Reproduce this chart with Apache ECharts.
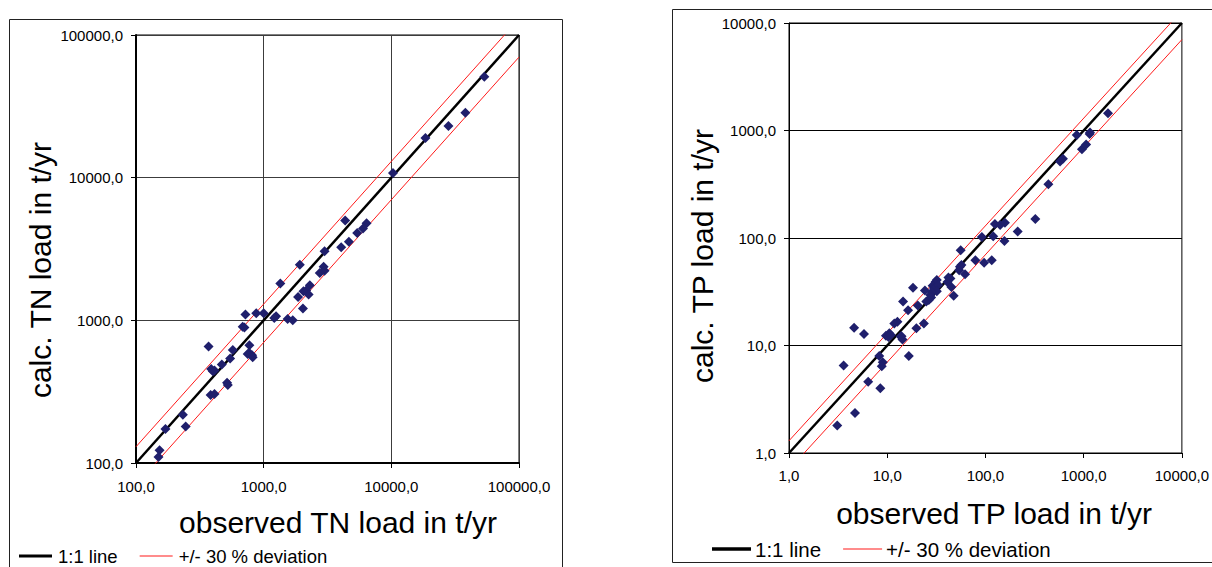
<!DOCTYPE html>
<html>
<head>
<meta charset="utf-8">
<title>Observed vs calculated TN and TP loads</title>
<script src="https://cdn.jsdelivr.net/npm/echarts@6/dist/echarts.min.js"></script>
<style>
  html, body { margin: 0; padding: 0; background: #fff; }
  #chart { width: 1212px; height: 567px; }
</style>
</head>
<body>
<div id="chart"></div>
<script>
// Total nitrogen: [observed, calculated] load in t/yr
const tnPoints = [
  [53500, 51000], [38000, 28500], [28000, 23000], [18500, 19000], [10300, 10800],
  [4350, 5000], [6400, 4800], [6000, 4400], [5400, 4100], [4650, 3550],
  [4050, 3250], [3000, 3050], [2950, 2370], [3000, 2230], [2750, 2150],
  [1920, 2450], [2300, 1760], [2150, 1620], [2050, 1600], [2250, 1520],
  [1860, 1460], [2030, 1210], [1350, 1810], [1000, 1120], [875, 1120],
  [720, 1100], [1250, 1070], [1210, 1040], [1540, 1020], [1690, 1000],
  [685, 900], [707, 890], [370, 655], [573, 620], [773, 670],
  [773, 590], [811, 570], [750, 580], [820, 550], [546, 540],
  [470, 490], [388, 455], [412, 445], [400, 440], [517, 365], [524, 352],
  [384, 300], [412, 305], [233, 218], [245, 180], [170, 173],
  [153, 123], [150, 110]
];

// Total phosphorus: [observed, calculated] load in t/yr
const tpPoints = [
  [1770, 1450], [850, 910], [1150, 930], [1160, 960], [960, 670],
  [1060, 740], [575, 515], [615, 545], [437, 317], [322, 150],
  [213, 115], [125, 135], [141, 132], [158, 139], [120, 104],
  [92, 102], [156, 94], [56, 77], [79, 62], [116, 62],
  [97, 59], [57, 56], [55, 54], [54, 50], [62, 46],
  [42, 43], [44, 42], [41, 39], [45, 35], [47.5, 29],
  [31, 39], [32, 40.7], [29, 36], [30, 34], [33, 36.5],
  [32, 32], [28.5, 31.5], [27.5, 29.5], [26.5, 26.5], [25, 25.6],
  [28, 28], [24.2, 32.4], [20.5, 23.5], [18.3, 34.5], [16.3, 21.3],
  [14.5, 25.6], [12.7, 16.6], [11.8, 16], [23.6, 16], [19.8, 14.5],
  [14, 12.2], [14.3, 11.4], [13.7, 12.1], [10.5, 13], [9.7, 12.3],
  [10.3, 12], [10.9, 12.5], [4.6, 14.6], [5.8, 12.8], [16.6, 8],
  [8.3, 8], [9, 7], [8.8, 6.4], [3.6, 6.5], [6.4, 4.6],
  [8.5, 4], [4.7, 2.35], [3.1, 1.8]
];

// Axis ranges (log scale, one decade per tick)
const tnRange = [100, 100000];
const tpRange = [1, 10000];

// Reference lines: 1:1 and +/- 30 % deviation
const tnOneToOne = [[100, 100], [100000, 100000]];
const tnUpper = [[100, 130], [100000, 130000]];
const tnLower = [[100, 70], [100000, 70000]];
const tpOneToOne = [[1, 1], [10000, 10000]];
const tpUpper = [[1, 1.3], [10000, 13000]];
const tpLower = [[1, 0.7], [10000, 7000]];

const FONT = 'Liberation Sans, Arial, sans-serif';
const MARKER = '#1f1f6c';
const RED = '#ff1a1a';
const fmt = v => (Math.round(v * 10) / 10).toFixed(1).replace('.', ',');

function logAxis(gridIndex, range, opts) {
  return Object.assign({
    type: 'log',
    logBase: 10,
    gridIndex: gridIndex,
    min: range[0],
    max: range[1],
    axisLine: { show: true, lineStyle: { color: '#000', width: 1 } },
    axisTick: { show: true, inside: false, length: 5, lineStyle: { color: '#000' } },
    minorTick: { show: false },
    axisLabel: { formatter: fmt, color: '#000', fontSize: 15, fontFamily: FONT },
    splitLine: { show: true, lineStyle: { color: '#3c3c3c', width: 1 } }
  }, opts);
}

function refLine(name, data, idx, color, width) {
  return {
    name: name, type: 'line', data: data,
    xAxisIndex: idx, yAxisIndex: idx,
    symbol: 'none', clip: true, silent: true,
    lineStyle: { color: color, width: width },
    itemStyle: { color: color },
    z: 2
  };
}

function pointSeries(name, data, idx) {
  return {
    name: name, type: 'scatter', data: data,
    xAxisIndex: idx, yAxisIndex: idx,
    symbol: 'diamond', symbolSize: 10,
    itemStyle: { color: MARKER, opacity: 1 },
    z: 3
  };
}

// legend entries drawn as plain strokes (thick black, thin red)
const legendItems = [
  { name: '1:1 line', icon: 'path://M0,0H32V3H0Z', itemStyle: { color: '#000' } },
  { name: '+/- 30 % deviation', icon: 'path://M0,0H32V1H0Z', itemStyle: { color: RED } }
];

const chart = echarts.init(document.getElementById('chart'), null, { renderer: 'svg' });

chart.setOption({
  animation: false,
  backgroundColor: '#fff',
  textStyle: { fontFamily: FONT },
  grid: [
    { left: 136, top: 35, width: 383, height: 428, show: true, borderColor: '#000', borderWidth: 1, backgroundColor: 'transparent' },
    { left: 789, top: 23, width: 396, height: 430, show: true, borderColor: '#000', borderWidth: 1, backgroundColor: 'transparent' }
  ],
  xAxis: [
    logAxis(0, tnRange, {
      axisLine: { show: true, lineStyle: { color: '#000', width: 2 } },
      axisLabel: { formatter: fmt, color: '#000', fontSize: 15, fontFamily: FONT, margin: 16 }
    }),
    logAxis(1, tpRange, {
      splitLine: { show: false },
      axisLabel: { formatter: fmt, color: '#000', fontSize: 15, fontFamily: FONT, margin: 15 }
    })
  ],
  yAxis: [
    logAxis(0, tnRange, {
      axisLine: { show: true, lineStyle: { color: '#000', width: 2 } },
      axisLabel: { formatter: fmt, color: '#000', fontSize: 15, fontFamily: FONT, margin: 13 }
    }),
    logAxis(1, tpRange, {
      splitLine: { show: true, lineStyle: { color: '#000', width: 1 } },
      axisLabel: { formatter: fmt, color: '#000', fontSize: 15, fontFamily: FONT, margin: 13 }
    })
  ],
  legend: [
    {
      left: 19, top: 546, itemWidth: 33, itemHeight: 10, itemGap: 22, padding: 0,
      data: legendItems,
      textStyle: { fontSize: 18.5, lineHeight: 20, color: '#000', fontFamily: FONT, padding: [0, 0, 0, 1] },
      selectedMode: false
    },
    {
      left: 712, top: 538, itemWidth: 39, itemHeight: 10, itemGap: 22, padding: 0,
      data: legendItems,
      textStyle: { fontSize: 20.5, lineHeight: 22, color: '#000', fontFamily: FONT, padding: [0, 0, 0, -1] },
      selectedMode: false
    }
  ],
  series: [
    refLine('1:1 line', tnOneToOne, 0, '#000', 2.5),
    refLine('+/- 30 % deviation', tnUpper, 0, RED, 1),
    refLine('+/- 30 % deviation', tnLower, 0, RED, 1),
    pointSeries('TN', tnPoints, 0),
    refLine('1:1 line', tpOneToOne, 1, '#000', 2.5),
    refLine('+/- 30 % deviation', tpUpper, 1, RED, 1),
    refLine('+/- 30 % deviation', tpLower, 1, RED, 1),
    pointSeries('TP', tpPoints, 1)
  ],
  graphic: [
    // panel frames
    { type: 'rect', shape: { x: 9.5, y: 19.5, width: 553, height: 560 },
      style: { fill: 'none', stroke: '#222', lineWidth: 1 }, silent: true },
    { type: 'rect', shape: { x: 672.5, y: 9.5, width: 600, height: 553 },
      style: { fill: 'none', stroke: '#222', lineWidth: 1 }, silent: true },
    // axis titles
    { type: 'text', x: 40, y: 270, rotation: Math.PI / 2,
      style: { text: 'calc. TN load in t/yr', font: '30px ' + FONT, fill: '#000', textAlign: 'center', textVerticalAlign: 'middle' } },
    { type: 'text', x: 338, y: 522,
      style: { text: 'observed TN load in t/yr', font: '30px ' + FONT, fill: '#000', textAlign: 'center', textVerticalAlign: 'middle' } },
    { type: 'text', x: 702, y: 256, rotation: Math.PI / 2,
      style: { text: 'calc. TP load in t/yr', font: '30px ' + FONT, fill: '#000', textAlign: 'center', textVerticalAlign: 'middle' } },
    { type: 'text', x: 994, y: 513,
      style: { text: 'observed TP load in t/yr', font: '30px ' + FONT, fill: '#000', textAlign: 'center', textVerticalAlign: 'middle' } }
  ]
});
</script>
</body>
</html>
